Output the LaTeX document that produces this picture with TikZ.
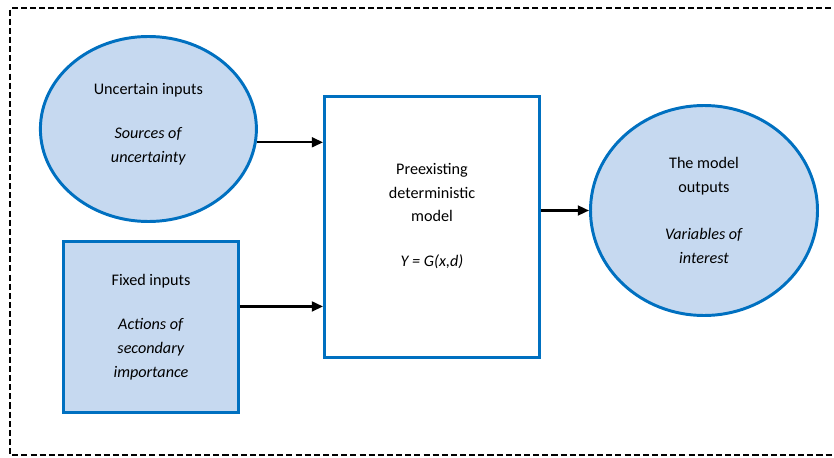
\documentclass[tikz,border=0pt]{standalone}
\usepackage{fontspec}
\setmainfont{Carlito}
\usepackage{tikz}
\usetikzlibrary{shapes,arrows.meta}
\definecolor{boxblue}{RGB}{0,112,192}
\definecolor{boxfill}{RGB}{198,217,240}

\begin{document}
\begin{tikzpicture}[
  blob/.style={ellipse,draw=boxblue,line width=2.1pt,fill=boxfill,align=center,font=\fontsize{11.5}{17}\selectfont},
  blk/.style={rectangle,draw=boxblue,line width=2.1pt,align=center,font=\fontsize{11.5}{17}\selectfont},
  flow/.style={-{Triangle[length=8pt,width=7pt]},line width=1.7pt}
]
\useasboundingbox (0,0) rectangle (20.85,11.425);

% dashed frame, open on the right
\draw [line width=1pt,dash pattern=on 4.3pt off 2.2pt] (21,11.225) -| (0.25,0.05) -- (21,0.05);

\node [blob,minimum width=5.4cm,minimum height=4.625cm,text depth=0.3cm] (v1) at (3.71,8.2) {Uncertain inputs\\[14pt]\textit{Sources of}\\\textit{uncertainty}};
\node [blk,fill=boxfill,minimum width=4.375cm,minimum height=4.275cm] (v2) at (3.775,3.25) {Fixed inputs\\[14pt]\textit{Actions of}\\\textit{secondary}\\\textit{importance}};
\node [blk,fill=white,minimum width=5.375cm,minimum height=6.525cm,text depth=0.6cm] (v3) at (10.8,5.75) {Preexisting\\deterministic\\model\\[15pt]\textit{Y = G(x,d)}};
\node [blob,minimum width=5.675cm,minimum height=5.25cm] (v4) at (17.6,6.1625) {The model\\outputs\\[17pt]\textit{Variables of}\\\textit{interest}};

\draw [flow] (v1.-7) -- (v1.-7 -| v3.west);
\draw [flow] (v2.13) -- (v2.13 -| v3.west);
\draw [flow] (v4.west -| v3.east) -- (v4.west);
\end{tikzpicture}
\end{document}
